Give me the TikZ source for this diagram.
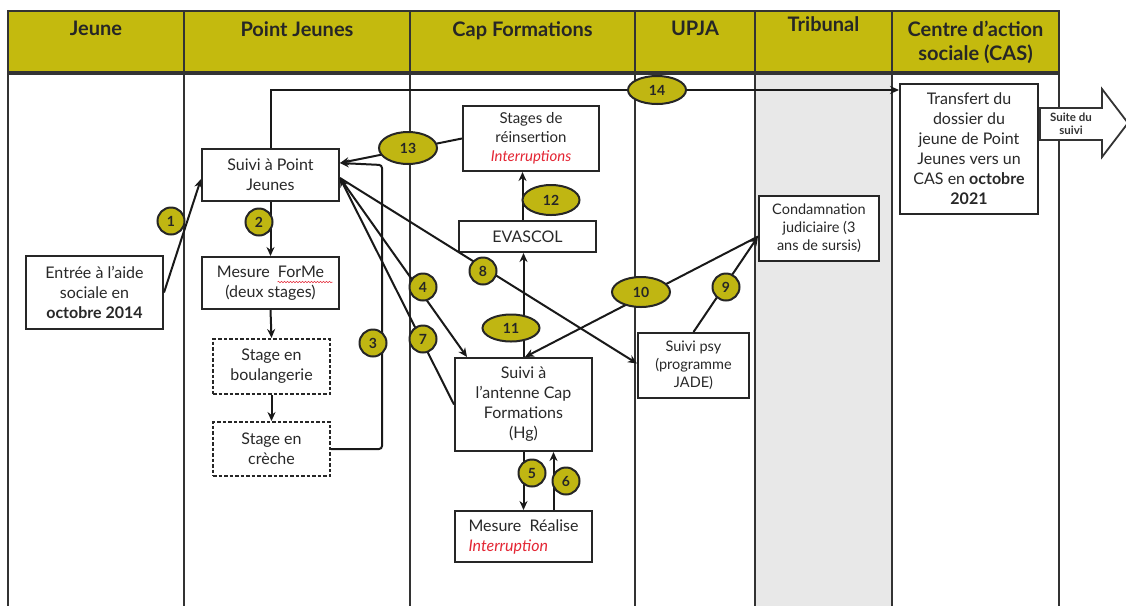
\documentclass[tikz,border=0pt]{standalone}
\usepackage{fontspec}
\setmainfont{Lato}
\usetikzlibrary{arrows.meta,calc,shapes.geometric,decorations.pathmorphing}
\definecolor{hdr}{RGB}{196,186,14}
\definecolor{lbl}{RGB}{192,182,18}
\definecolor{txt}{RGB}{40,40,40}
\definecolor{redt}{RGB}{228,38,52}
\definecolor{trib}{RGB}{232,232,232}
\begin{document}
\begin{tikzpicture}[x=1pt,y=-1pt,
 box/.style={draw=black!85, line width=2pt, fill=white, text=txt, align=center, inner sep=1pt, font=\fontsize{16}{20}\selectfont},
 smallbox/.style={box, font=\fontsize{14.5}{18}\selectfont},
 dbox/.style={box, dash pattern=on 3.5pt off 2pt},
 conn/.style={line width=2pt, draw=black!90},
 arr/.style={conn, -{Stealth[length=9pt,width=8pt]}},
 num/.style={circle, draw=black!85, line width=2pt, fill=lbl, minimum size=27pt, inner sep=0pt, font=\fontsize{14}{14}\selectfont\bfseries, text=black!85},
 oval/.style={ellipse, draw=black!85, line width=2pt, fill=lbl, inner sep=0pt, font=\fontsize{14}{14}\selectfont\bfseries, text=black!85},
 hd/.style={font=\fontsize{20}{24}\selectfont\bfseries, text=black!85, align=center, anchor=north},
 colline/.style={line width=1.6pt, draw=black!80},
]
\useasboundingbox (0,0) rectangle (1126,606);
% table
\fill[trib] (755,72) rectangle (892,606);
\draw[colline, fill=hdr] (8,11) rectangle (1059,72);
\foreach \x in {8,184,410,635,755,892,1059} \draw[colline] (\x,11) -- (\x,606);
\draw[colline] (8,74) -- (1059,74);
\node[hd] (hJ) at (96,18) {Jeune};
\node[hd] (hPJ) at (297,18) {Point Jeunes};
\node[hd] (hCF) at (522.5,18) {Cap Formations};
\node[hd] (hU) at (695,18) {UPJA};
\node[hd] (hT) at (823.5,13) {Tribunal};
\node[hd] (hC) at (975.5,18) {Centre d’action\\sociale (CAS)};
% boxes
\node[box, minimum width=137pt, minimum height=73pt] (entree) at (94.5,292.5) {Entrée à l’aide\\sociale en\\\textbf{octobre 2014}};
\node[box, minimum width=137pt, minimum height=52pt] (suivi) at (270.5,175) {Suivi à Point\\Jeunes};
\node[box, minimum width=137pt, minimum height=52pt] (forme) at (270.5,283) {Mesure~~ForMe\\(deux stages)};
\node[dbox, minimum width=117pt, minimum height=55pt] (boul) at (271.5,366.5) {Stage en\\boulangerie};
\node[dbox, minimum width=117pt, minimum height=54pt] (creche) at (271.5,449) {Stage en\\crèche};
\node[box, minimum width=136pt, minimum height=65pt, font=\fontsize{15}{19}\selectfont] (stages) at (531,138.5) {Stages de\\réinsertion\\\textcolor{redt}{\itshape Interruptions}};
\node[box, minimum width=137pt, minimum height=31pt] (evascol) at (527.5,236.5) {EVASCOL};
\node[box, minimum width=137pt, minimum height=93pt] (antenne) at (523.5,404.5) {Suivi à\\l’antenne Cap\\Formations\\(Hg)};
\node[box, minimum width=137pt, minimum height=51pt, align=left] (realise) at (523.5,536.5) {Mesure~~Réalise\\\textcolor{redt}{\itshape Interruption}};
\node[smallbox, minimum width=111pt, minimum height=65pt] (psy) at (693.5,365.5) {Suivi psy\\(programme\\JADE)};
\node[smallbox, minimum width=120pt, minimum height=65pt] (condam) at (819,228.5) {Condamnation\\judiciaire (3\\ans de sursis)};
\node[box, minimum width=138pt, minimum height=130pt] (transfert) at (969,149) {Transfert du\\dossier du\\jeune de Point\\Jeunes vers un\\CAS en \textbf{octobre}\\\textbf{2021}};
% spell-check mark
\draw[redt, line width=0.5pt, decorate, decoration={snake, amplitude=0.7pt, segment length=3pt}] ($(forme.center)+(7,-1)$) -- ($(forme.center)+(62,-1)$);
% big arrow
\draw[line width=1.8pt, draw=black!80, fill=white] (1040,108) -- (1102,108) -- (1102,89) -- (1128,123) -- (1102,157) -- (1102,140) -- (1040,140) -- cycle;
\node[font=\fontsize{11.5}{13.5}\selectfont\bfseries, text=black!80, align=center] (suite) at (1071,124) {Suite du\\suivi};
% connectors
\draw[arr] (entree.east) -- ([yshift=-4pt]suivi.west);
\draw[arr] (suivi.south) -- (forme.north);
\draw[arr] (forme.south) -- (boul.north);
\draw[arr] (boul.south) -- (creche.north);
\draw[arr, rounded corners=3pt] (creche.east) -- (382,449) -- (382,165) -- ([yshift=12pt]suivi.east);
\draw[arr] (stages.west) -- ([yshift=12pt]suivi.east);
\draw[arr] (suivi.north) |- ([yshift=59pt]transfert.west);
\draw[arr] ([yshift=-3pt]suivi.east) -- ([xshift=13pt]antenne.north west);
\draw[arr] (antenne.west) -- ([yshift=-3pt]suivi.east);
\draw[arr] ([yshift=-3pt]suivi.east) -- ([yshift=2pt]psy.west);
\draw[arr] (psy.north) -- ([yshift=-8pt]condam.west);
\draw[arr] ([yshift=-8pt]condam.west) -- ([xshift=1.5pt]antenne.north);
\draw[arr] (antenne.north) -- (antenne.north |- evascol.south);
\draw[arr] ([xshift=-5pt]evascol.north) -- ([xshift=-5pt]evascol.north |- stages.south);
\draw[arr] (antenne.south) -- (antenne.south |- realise.north);
\draw[arr] ([xshift=30pt]realise.north) -- ([xshift=30pt]realise.north |- antenne.south);
% labels
\node[num] (n1) at (171,221) {1};
\node[num] (n2) at (259,222) {2};
\node[num] (n3) at (373,343) {3};
\node[num] (n4) at (423,287) {4};
\node[num] (n5) at (532,473) {5};
\node[num] (n6) at (566,481) {6};
\node[num] (n7) at (423,339) {7};
\node[num] (n8) at (483,271) {8};
\node[num] (n9) at (726,287) {9};
\node[oval, minimum width=58pt, minimum height=30pt] (n10) at (641,292) {10};
\node[oval, minimum width=57pt, minimum height=27pt] (n11) at (511,328) {11};
\node[oval, minimum width=57pt, minimum height=30pt] (n12) at (551,200) {12};
\node[oval, minimum width=58pt, minimum height=32pt] (n13) at (408,148) {13};
\node[oval, minimum width=58pt, minimum height=28pt] (n14) at (657,90) {14};
\end{tikzpicture}
\end{document}
